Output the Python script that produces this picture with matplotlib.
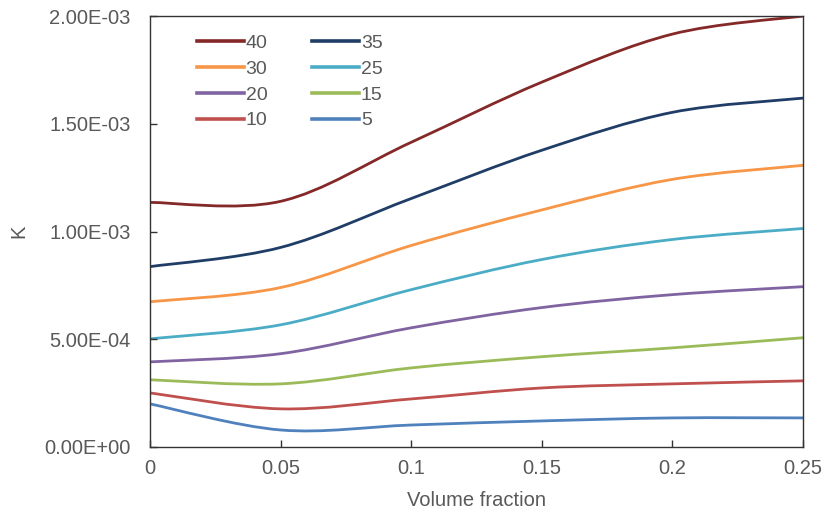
import numpy as np
import matplotlib.pyplot as plt
from matplotlib.path import Path
from matplotlib.patches import PathPatch
from matplotlib.lines import Line2D
from matplotlib.ticker import FuncFormatter

plt.rcParams['font.family'] = ['Liberation Sans', 'DejaVu Sans']

# volume fraction (x) and K values for each series
volume_fraction = [0, 0.05, 0.1, 0.15, 0.2, 0.25]
k_40 = [1.135e-3, 1.140e-3, 1.414e-3, 1.693e-3, 1.916e-3, 2.000e-3]
k_35 = [0.837e-3, 0.926e-3, 1.153e-3, 1.377e-3, 1.553e-3, 1.619e-3]
k_30 = [0.674e-3, 0.740e-3, 0.935e-3, 1.100e-3, 1.242e-3, 1.307e-3]
k_25 = [0.502e-3, 0.567e-3, 0.730e-3, 0.870e-3, 0.963e-3, 1.014e-3]
k_20 = [0.395e-3, 0.433e-3, 0.553e-3, 0.647e-3, 0.707e-3, 0.744e-3]
k_15 = [0.312e-3, 0.293e-3, 0.367e-3, 0.419e-3, 0.460e-3, 0.507e-3]
k_10 = [0.251e-3, 0.177e-3, 0.223e-3, 0.274e-3, 0.293e-3, 0.307e-3]
k_5 = [0.200e-3, 0.079e-3, 0.102e-3, 0.121e-3, 0.135e-3, 0.135e-3]

series = {'40': k_40, '35': k_35, '30': k_30, '25': k_25,
          '20': k_20, '15': k_15, '10': k_10, '5': k_5}
colors = {'40': '#842828', '35': '#1F3D66', '30': '#F79646', '25': '#4BACC6',
          '20': '#8064A2', '15': '#9BBB59', '10': '#C0504D', '5': '#4F81BD'}
legend_order = ['40', '30', '20', '10', '35', '25', '15', '5']

GREY = '#595959'


def smooth_path(x, y):
    # Excel-like smoothed line: cubic bezier through the points
    pts = np.column_stack([x, y])
    n = len(pts)
    verts = [pts[0]]
    codes = [Path.MOVETO]
    for i in range(n - 1):
        p0 = pts[max(i - 1, 0)]
        p1 = pts[i]
        p2 = pts[i + 1]
        p3 = pts[min(i + 2, n - 1)]
        verts += [p1 + (p2 - p0) / 6, p2 - (p3 - p1) / 6, p2]
        codes += [Path.CURVE4] * 3
    return Path(verts, codes)


fig = plt.figure(figsize=(8.28, 5.19), dpi=100)
ax = fig.add_axes([150 / 828, 72 / 519, 653 / 828, 431 / 519])

handles = {}
for name, vals in series.items():
    patch = PathPatch(smooth_path(volume_fraction, vals), fill=False,
                      edgecolor=colors[name], lw=2.0, capstyle='round')
    ax.add_patch(patch)
    handles[name] = Line2D([], [], color=colors[name], lw=2.6)

ax.set_xlim(0, 0.25)
ax.set_ylim(0, 2e-3)
ax.set_xticks(volume_fraction)
ax.set_yticks([0, 5e-4, 1e-3, 1.5e-3, 2e-3])
ax.xaxis.set_major_formatter(FuncFormatter(lambda v, p: f'{v:g}'))
ax.yaxis.set_major_formatter(FuncFormatter(lambda v, p: f'{v:.2E}'))
ax.tick_params(axis='both', direction='in', length=5, width=1, color='#333333',
               labelsize=14.5, labelcolor=GREY)
ax.tick_params(axis='y', pad=14)
ax.tick_params(axis='x', pad=9)
for s in ax.spines.values():
    s.set_color('#333333')
    s.set_linewidth(1.0)

ax.set_xlabel('Volume fraction', fontsize=14.5, color=GREY)
ax.set_ylabel('K', fontsize=14.5, color=GREY)
ax.xaxis.set_label_coords(0.5, -0.102)
ax.yaxis.set_label_coords(-0.186, 0.5)

ax.legend([handles[n] for n in legend_order], legend_order, ncol=2,
          loc='upper left', bbox_to_anchor=(0.072, 0.957), frameon=False,
          fontsize=14, handlelength=2.4, handletextpad=0.1,
          columnspacing=2.3, labelspacing=0.42, borderpad=0, borderaxespad=0,
          labelcolor=GREY)

fig.savefig('out.png', dpi=100)
